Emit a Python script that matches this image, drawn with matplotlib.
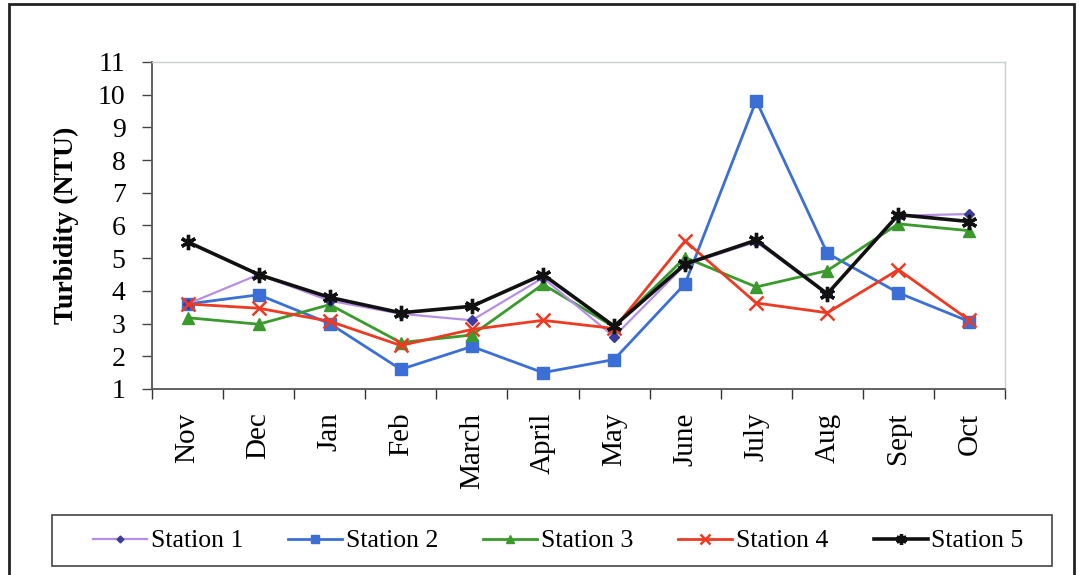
import matplotlib.pyplot as plt
from matplotlib.patches import Rectangle

# monthly turbidity readings per station
months = ["Nov", "Dec", "Jan", "Feb", "March", "April", "May",
          "June", "July", "Aug", "Sept", "Oct"]
station1 = [3.6, 4.5, 3.7, 3.3, 3.1, 4.4, 2.6, 4.8, 5.5, 3.9, 6.3, 6.35]
station2 = [3.6, 3.88, 3.0, 1.6, 2.3, 1.5, 1.9, 4.22, 9.82, 5.15, 3.94, 3.06]
station3 = [3.18, 2.98, 3.58, 2.42, 2.65, 4.2, 2.9, 5.02, 4.12, 4.62, 6.05, 5.84]
station4 = [3.6, 3.47, 3.07, 2.33, 2.82, 3.1, 2.85, 5.53, 3.63, 3.33, 4.65, 3.1]
station5 = [5.5, 4.5, 3.8, 3.33, 3.53, 4.5, 2.92, 4.82, 5.55, 3.91, 6.33, 6.12]

plt.rcParams['font.family'] = ['Liberation Serif', 'DejaVu Serif']

fig = plt.figure(figsize=(10.79, 5.75), dpi=100)
ax = fig.add_axes([0.1409, 0.3235, 0.7905, 0.5687])

x = list(range(len(months)))
ax.plot(x, station1, color='#b58fe6', lw=1.6, marker='D', ms=5,
        mfc='#3c3c9c', mec='#3c3c9c', label='Station 1', zorder=3)
ax.plot(x, station2, color='#3b6fd6', lw=2.0, marker='s', ms=9,
        mfc='#3b6fd6', mec='#3b6fd6', label='Station 2', zorder=2)
ax.plot(x, station3, color='#3a9a2c', lw=2.0, marker='^', ms=9,
        mfc='#3a9a2c', mec='#3a9a2c', label='Station 3', zorder=2)
ax.plot(x, station4, color='#ee3a22', lw=2.0, marker='x', ms=10,
        mew=1.8, label='Station 4', zorder=4)
ax.plot(x, station5, color='#111111', lw=2.6, marker=(6, 2, 0), ms=11,
        mew=2.4, label='Station 5', zorder=5)

ax.set_xlim(-0.5, 11.5)
ax.set_ylim(1, 11)
ax.set_yticks(range(1, 12))
ax.tick_params(axis='y', direction='out', length=7, width=1, labelsize=20,
               pad=12, color='#444444')

# tick marks between months, labels centred on each month
ax.set_xticks([i + 0.5 for i in range(-1, 12)])
ax.set_xticklabels([])
ax.tick_params(axis='x', which='major', direction='out', length=7, width=1,
               color='#333333')
ax.set_xticks(x, minor=True)
ax.set_xticklabels(months, minor=True, rotation=90, fontsize=21)
ax.tick_params(axis='x', which='minor', length=0, pad=17)

ax.set_ylabel("Turbidity (NTU)", fontsize=20, fontweight='bold', labelpad=14)

for side in ['top', 'right']:
    ax.spines[side].set_color('#c8d0cc')
    ax.spines[side].set_linewidth(1)
ax.spines['left'].set_color('#555555')
ax.spines['bottom'].set_color('#555555')
ax.spines['left'].set_linewidth(1.3)
ax.spines['bottom'].set_linewidth(1.3)

# legend row inside its own box
fig.patches.append(Rectangle((52 / 1079, 1 - 566 / 575), 1000 / 1079, 51 / 575,
                             transform=fig.transFigure, fill=False,
                             edgecolor='#444444', lw=1.2))
fig.legend(loc='center left', bbox_to_anchor=(93 / 1079, 1 - 541 / 575),
           ncol=5, fontsize=18.5, frameon=False, handlelength=2.1,
           handletextpad=0.15, columnspacing=1.75, borderpad=0,
           borderaxespad=0, markerscale=0.7)

# outer frame around the whole chart
fig.patches.append(Rectangle((9 / 1079, -0.02), 1065 / 1079, 1.0 - 4 / 575 + 0.02,
                             transform=fig.transFigure, fill=False,
                             edgecolor='#222222', lw=2))

plt.savefig("out.png", dpi=100)
